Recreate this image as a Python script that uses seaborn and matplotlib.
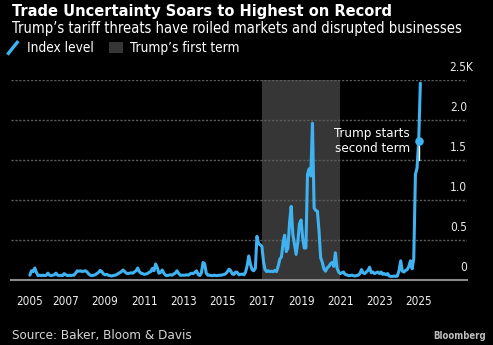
import numpy as np
import pandas as pd
import matplotlib
matplotlib.use("Agg")
import matplotlib.pyplot as plt
import seaborn as sns
from matplotlib.lines import Line2D
from matplotlib.patches import Patch
from matplotlib.legend_handler import HandlerBase
from matplotlib.transforms import offset_copy, blended_transform_factory
import matplotlib.dates as mdates

# ---------------- data (monthly Trade Policy Uncertainty index) ----------------
start_month = "2005-03-01"
tpu_2005 = [60, 115, 105, 150, 95, 55, 60, 55, 60, 55]            # Mar-Dec
tpu_2006 = [60, 85, 60, 55, 60, 65, 85, 60, 55, 60, 55, 80]
tpu_2007 = [65, 55, 60, 55, 60, 60, 85, 115, 110, 115, 105, 110]
tpu_2008 = [115, 100, 75, 60, 55, 60, 65, 80, 95, 120, 105, 75]
tpu_2009 = [65, 70, 60, 55, 50, 55, 60, 65, 80, 90, 105, 125]
tpu_2010 = [105, 85, 80, 85, 90, 85, 100, 115, 150, 105, 85, 80]
tpu_2011 = [70, 75, 80, 95, 105, 145, 115, 200, 155, 85, 95, 125]
tpu_2012 = [85, 60, 55, 60, 65, 60, 75, 85, 115, 85, 60, 60]
tpu_2013 = [60, 60, 65, 60, 75, 85, 80, 95, 115, 70, 55, 90]
tpu_2014 = [220, 200, 85, 60, 60, 55, 55, 60, 55, 55, 60, 60]
tpu_2015 = [65, 70, 80, 105, 135, 115, 75, 70, 100, 95, 65, 70]
tpu_2016 = [75, 65, 95, 175, 300, 200, 130, 115, 145, 545, 455, 440]
tpu_2017 = [420, 225, 130, 105, 115, 105, 110, 105, 120, 105, 175, 260]
tpu_2018 = [290, 470, 560, 355, 400, 720, 920, 570, 440, 320, 470, 700]
tpu_2019 = [750, 520, 400, 400, 1320, 1390, 1300, 1960, 900, 870, 860, 620]
tpu_2020 = [280, 220, 140, 110, 150, 170, 200, 220, 170, 340, 150, 100]
tpu_2021 = [80, 90, 100, 70, 65, 55, 55, 60, 55, 50, 55, 60]
tpu_2022 = [80, 130, 90, 80, 100, 120, 160, 90, 100, 80, 90, 100]
tpu_2023 = [80, 100, 70, 80, 65, 80, 50, 45, 45, 50, 45, 50]
tpu_2024 = [120, 240, 110, 100, 120, 130, 170, 240, 140, 270, 1320, 1400]
tpu_2025 = [1740, 2460]                                             # Jan-Feb

first_term = ("2017-01-01", "2021-01-01")
second_term_start = "2025-01-01"
annotation_text = "Trump starts\nsecond term"

y_ticks = [0, 500, 1000, 1500, 2000, 2500]
y_labels = ["0", "0.5", "1.0", "1.5", "2.0", "2.5K"]
x_tick_years = list(range(2007, 2026, 2))

title = "Trade Uncertainty Soars to Highest on Record"
subtitle = "Trump\u2019s tariff threats have roiled markets and disrupted businesses"
legend_labels = ["Index level", "Trump\u2019s first term"]
source = "Source: Baker, Bloom & Davis"

values = (tpu_2005 + tpu_2006 + tpu_2007 + tpu_2008 + tpu_2009 + tpu_2010 +
          tpu_2011 + tpu_2012 + tpu_2013 + tpu_2014 + tpu_2015 + tpu_2016 +
          tpu_2017 + tpu_2018 + tpu_2019 + tpu_2020 + tpu_2021 + tpu_2022 +
          tpu_2023 + tpu_2024 + tpu_2025)
dates = pd.date_range(start_month, periods=len(values), freq="MS")
df = pd.DataFrame({"date": dates, "value": values})

# ---------------- style ----------------
BLUE = "#3fb2f2"
SHADE = "#363636"
GRID = "#5c5c5c"
sns.set_style("dark", {"axes.facecolor": "black", "figure.facecolor": "black"})
FAMILY = ["DejaVu Sans"]
plt.rcParams["font.family"] = FAMILY
plt.rcParams["font.stretch"] = "condensed"

W, H = 493, 345
fig = plt.figure(figsize=(W / 100, H / 100), dpi=100, facecolor="black")
renderer = fig.canvas.get_renderer()


def fx(px):
    return px / W


def fy(py):
    return 1 - py / H


def fit(s, target, weight="normal"):
    t = fig.text(0, 0, s, fontsize=10, fontweight=weight)
    w = t.get_window_extent(renderer).width
    t.remove()
    return 10 * target / w


ax = fig.add_axes([fx(11), fy(280), (467 - 11) / W, (280 - 80) / H])
ax.set_facecolor("black")

ax.axvspan(pd.Timestamp(first_term[0]), pd.Timestamp(first_term[1]),
           color=SHADE, lw=0, zorder=0)
sns.lineplot(data=df, x="date", y="value", color=BLUE, linewidth=2.2,
             ax=ax, zorder=3)

ax.set_ylim(0, 2500)
ax.set_xlim(pd.Timestamp("2004-03-15"), pd.Timestamp("2027-06-20"))
ax.set_xlabel("")
ax.set_ylabel("")

# grid
ax.set_yticks(y_ticks)
ax.yaxis.grid(True, color=GRID, linestyle=(0, (1.6, 1.2)), linewidth=1.0)
ax.xaxis.grid(False)
ax.tick_params(axis="y", length=0, labelleft=False, labelright=False)

# y labels (right, above gridlines)
fs_tick = fit("2.0", 17)
ytrans = blended_transform_factory(ax.transAxes, ax.transData)
for v, lab in zip(y_ticks, y_labels):
    dx = 6 if lab.endswith("K") else 0
    ax.text(1, v, lab, transform=offset_copy(ytrans, fig=fig, x=dx, y=9, units="dots"),
            ha="right", va="baseline", color="#e8e8e8", fontsize=fs_tick)

# x ticks
xt = [dates[0]] + [pd.Timestamp(f"{y}-01-01") for y in x_tick_years]
ax.set_xticks(xt)
ax.xaxis.set_major_formatter(mdates.DateFormatter("%Y"))
fs_x = fit("2005", 26.7)
ax.tick_params(axis="x", length=3, width=1, color="#8a8a8a", pad=8,
               labelcolor="#f0f0f0", labelsize=fs_x)

for s in ["top", "left", "right"]:
    ax.spines[s].set_visible(False)
ax.spines["bottom"].set_color("#8a8a8a")
ax.spines["bottom"].set_linewidth(1.5)

# second-term marker and annotation
row = df[df["date"] == pd.Timestamp(second_term_start)].iloc[0]
ax.scatter([row["date"]], [row["value"]], s=38, color=BLUE, zorder=5, linewidths=0)
ax.plot([row["date"], row["date"]], [row["value"] - 60, row["value"] - 240],
        color="white", lw=1, zorder=4)
fs_ann = fit("Trump starts", 75)
ax.annotate(annotation_text, xy=(row["date"], row["value"]), xytext=(-9, 0),
            textcoords="offset pixels", ha="right", va="center", color="white",
            fontsize=fs_ann, linespacing=1.15, zorder=6)

# titles
fig.text(fx(12.5), fy(16), title, fontsize=fit(title, 375, "bold"), fontweight="bold",
         color="white", ha="left", va="baseline")
fig.text(fx(12.5), fy(33), subtitle, fontsize=fit(subtitle, 448), color="white",
         ha="left", va="baseline")


# legend
class SlashHandler(HandlerBase):
    def create_artists(self, legend, orig_handle, xdescent, ydescent, width,
                       height, fontsize, trans):
        x0, y0 = -xdescent, -ydescent
        ln = Line2D([x0 + width * 0.1, x0 + width * 0.9],
                    [y0 - height * 0.15, y0 + height * 1.05],
                    color=BLUE, lw=2.4, solid_capstyle="butt")
        ln.set_transform(trans)
        return [ln]


fs_leg = fit(legend_labels[0], 67)
handles = [Line2D([], [], color=BLUE), Patch(facecolor=SHADE, edgecolor="none")]
fig.legend(handles, legend_labels, loc="upper left",
           bbox_to_anchor=(fx(6), fy(41)), ncol=2, frameon=False,
           handler_map={Line2D: SlashHandler()}, handlelength=1.0,
           handleheight=0.9, handletextpad=0.55, columnspacing=1.1,
           fontsize=fs_leg, labelcolor="white", borderaxespad=0, borderpad=0)

# source & brand
fig.text(fx(11.7), fy(339), source, fontsize=fit(source, 181), color="#d6d6d6",
         ha="left", va="baseline")
fig.text(fx(486), fy(339), "Bloomberg", fontsize=fit("Bloomberg", 52, "bold"),
         fontweight="bold", color="#bdbdbd", ha="right", va="baseline")

fig.savefig("out.png", dpi=100, facecolor="black")
